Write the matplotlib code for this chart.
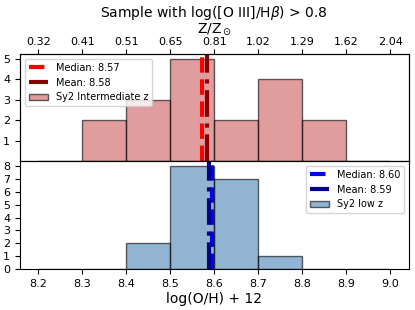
import matplotlib
matplotlib.use("Agg")
import matplotlib.pyplot as plt
import numpy as np

# histogram bins in 12+log(O/H)
bin_edges = [8.2, 8.3, 8.4, 8.5, 8.6, 8.7, 8.8, 8.9, 9.0]
counts_int = [0, 2, 3, 5, 2, 4, 2, 0]   # Sy2 intermediate z
counts_low = [0, 0, 2, 8, 7, 1, 0, 0]   # Sy2 low z

median_int, mean_int = 8.571, 8.584
median_low, mean_low = 8.595, 8.587

solar = 8.69
xticks = [8.2, 8.3, 8.4, 8.5, 8.6, 8.7, 8.8, 8.9, 9.0]

fig = plt.figure(figsize=(4.15, 3.1), dpi=100)
ax1 = fig.add_axes([0.048, 0.481, 0.9373, 0.345])
ax2 = fig.add_axes([0.048, 0.132, 0.9373, 0.349], sharex=ax1)

lefts = bin_edges[:-1]
b1 = ax1.bar(lefts, counts_int, width=0.1, align='edge', color='indianred',
             edgecolor='black', alpha=0.6, linewidth=1, label='Sy2 Intermediate z')
m1 = ax1.axvline(median_int, color='red', ls='--', lw=3, label='Median: %.2f' % median_int)
a1 = ax1.axvline(mean_int, color='darkred', ls='-.', lw=3, label='Mean: %.2f' % mean_int)

b2 = ax2.bar(lefts, counts_low, width=0.1, align='edge', color='steelblue',
             edgecolor='black', alpha=0.6, linewidth=1, label='Sy2 low z')
m2 = ax2.axvline(median_low, color='blue', ls='--', lw=3, label='Median: %.2f' % median_low)
a2 = ax2.axvline(mean_low, color='darkblue', ls='-.', lw=3, label='Mean: %.2f' % mean_low)

ax1.set_xlim(8.158, 9.042)
ax1.set_ylim(0, 5.25)
ax2.set_ylim(0, 8.4)
ax1.set_yticks([1, 2, 3, 4, 5])
ax2.set_yticks(range(0, 9))
ax2.set_xticks(xticks)
ax1.tick_params(labelbottom=False, labelsize=8)
ax2.tick_params(labelsize=8)

ax1.legend(handles=[m1, a1, b1], loc='upper left', fontsize=7)
ax2.legend(handles=[m2, a2, b2], loc='upper right', fontsize=7)

ax2.set_xlabel('log(O/H) + 12', fontsize=10, labelpad=2)

ax3 = ax1.twiny()
ax3.set_xlim(ax1.get_xlim())
ax3.set_xticks(xticks)
ax3.set_xticklabels(['%.2f' % 10 ** (x - solar) for x in xticks])
ax3.tick_params(labelsize=8, pad=1.5)
ax3.set_xlabel(r'Z/Z$_\odot$', fontsize=10, labelpad=3)
fig.text(0.516, 0.958, r'Sample with log([O III]/H$\beta$) > 0.8', fontsize=10,
         ha='center', va='center')

fig.savefig('out.png', dpi=100)
